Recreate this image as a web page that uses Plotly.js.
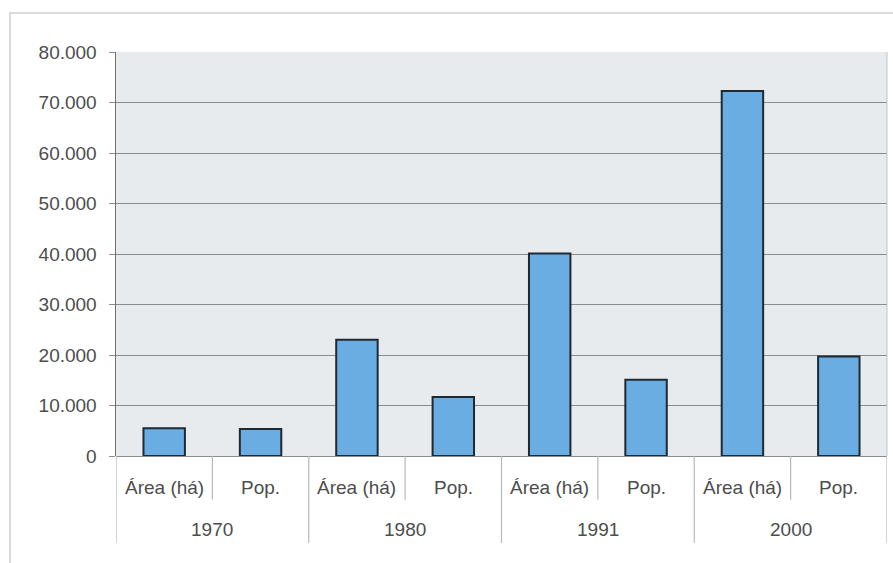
<!DOCTYPE html>
<html>
<head>
<meta charset="utf-8">
<script src="https://cdn.plot.ly/plotly-3.0.1.min.js"></script>
<style>html,body{margin:0;padding:0;background:#fff;}#chart{width:893px;height:563px;}</style>
</head>
<body>
<div id="chart"></div>
<script>
const years = ["1970", "1970", "1980", "1980", "1991", "1991", "2000", "2000"];
const measures = ["Área (há)", "Pop.", "Área (há)", "Pop.", "Área (há)", "Pop.", "Área (há)", "Pop."];
const values = [5500, 5350, 23000, 11700, 40100, 15100, 72300, 19700];
const yTicks = [0, 10000, 20000, 30000, 40000, 50000, 60000, 70000, 80000];

// unique category keys built from the two label levels
const cats = years.map((y, i) => y + " " + measures[i]);

const trace = {
  type: "bar",
  x: cats,
  y: values,
  width: 0.43,
  marker: {color: "#69ade2", line: {color: "#1e2a33", width: 2}},
  hoverinfo: "x+y"
};

const textColor = "#4d4d4d";
const divColor = "#b8b8b8";
const annotations = [];
const shapes = [];

// inner labels
measures.forEach((m, i) => {
  annotations.push({xref: "x", yref: "paper", x: i, y: -0.077, text: m, showarrow: false,
    xanchor: "center", yanchor: "middle", font: {size: 19, color: textColor}});
});
// year labels (one per group)
const groupStarts = [];
years.forEach((y, i) => { if (i === 0 || years[i - 1] !== y) groupStarts.push(i); });
groupStarts.forEach((s, g) => {
  const e = g + 1 < groupStarts.length ? groupStarts[g + 1] - 1 : years.length - 1;
  annotations.push({xref: "x", yref: "paper", x: (s + e) / 2, y: -0.183, text: years[s], showarrow: false,
    xanchor: "center", yanchor: "middle", font: {size: 19, color: textColor}});
});
// dividers
for (let b = 0; b <= years.length; b++) {
  const outer = b === 0 || b === years.length || years[b] !== years[b - 1];
  shapes.push({type: "line", xref: "x", yref: "paper", x0: b - 0.5, x1: b - 0.5,
    y0: 0, y1: outer ? -0.215 : -0.108, line: {color: divColor, width: 1.2}});
}
// outer chart border and plot right edge
shapes.push({type: "rect", xref: "paper", yref: "paper", x0: -0.1375, x1: 1.02, y0: -0.3, y1: 1.0965,
  line: {color: "#cfcfcf", width: 1.5}, fillcolor: "rgba(0,0,0,0)", layer: "below"});
shapes.push({type: "line", xref: "paper", yref: "paper", x0: 1, x1: 1, y0: 0, y1: 1,
  line: {color: "#c4c4c4", width: 1}});

const layout = {
  width: 893, height: 563,
  margin: {l: 116, r: 6, t: 52, b: 107},
  paper_bgcolor: "#ffffff",
  plot_bgcolor: "#e7ebee",
  separators: ",.",
  showlegend: false,
  font: {family: "Liberation Sans, Arial, sans-serif", size: 19, color: textColor},
  xaxis: {
    type: "category",
    showticklabels: false,
    showgrid: false,
    showline: false,
    zeroline: false,
    ticks: "",
    range: [-0.5, cats.length - 0.5]
  },
  yaxis: {
    range: [0, 80000],
    tickvals: yTicks,
    tickformat: ",d",
    showgrid: true,
    gridcolor: "#8c8c8c",
    gridwidth: 1,
    zeroline: true,
    zerolinecolor: "#8c8c8c",
    zerolinewidth: 1,
    showline: true,
    linecolor: "#707070",
    linewidth: 1.5,
    ticks: "outside",
    ticklen: 6,
    tickcolor: "#8c8c8c",
    ticklabelstandoff: 8,
    tickfont: {size: 19, color: textColor}
  },
  annotations: annotations,
  shapes: shapes
};

Plotly.newPlot("chart", [trace], layout, {displayModeBar: false, staticPlot: true});
</script>
</body>
</html>
